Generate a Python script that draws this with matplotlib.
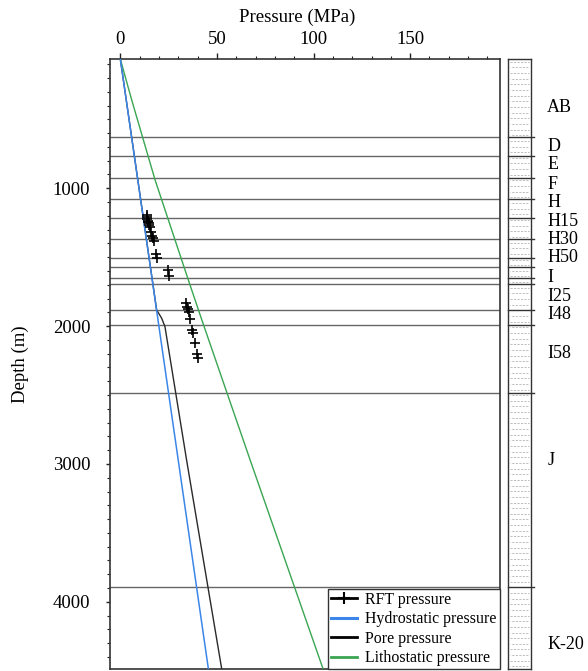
import numpy as np
import matplotlib
matplotlib.use("Agg")
import matplotlib.pyplot as plt
from matplotlib.ticker import MultipleLocator, FixedLocator
from matplotlib.lines import Line2D
import matplotlib.transforms as mtransforms

plt.rcParams['font.family'] = ['Liberation Serif', 'DejaVu Serif']

# ---------------- data ----------------
# RFT pressure measurements (MPa, depth m)
rft_pressure = [13.6, 13.8, 14.0, 14.2, 14.4, 14.6, 14.9, 15.5, 16.1, 16.6, 17.1, 17.6,
                18.5, 18.9, 24.6, 25.1,
                34.0, 34.4, 34.9, 35.6, 36.1, 37.0, 37.5, 38.7, 39.9, 40.2]
rft_depth = [1195, 1210, 1222, 1235, 1245, 1255, 1265, 1282, 1315, 1344, 1363, 1382,
             1475, 1503, 1595, 1638,
             1835, 1859, 1876, 1900, 1951, 2028, 2052, 2125, 2202, 2234]

# Hydrostatic pressure
hydro_pressure = [0.0, 45.6]
hydro_depth = [62, 4490]

# Pore pressure
pore_pressure = [0.0, 18.8, 21.4, 23.1, 34.3, 52.5]
pore_depth = [62, 1883, 1943, 2004, 2972, 4490]

# Lithostatic pressure
litho_pressure = [0.0, 5.9, 18.0, 35.2, 42.2, 67.2, 105.0]
litho_depth = [62, 360, 940, 1665, 1956, 2972, 4490]

# Formation tops (m) and labels
boundary_depths = [626, 766, 929, 1080, 1218, 1370, 1509, 1573, 1653, 1694, 1883, 1992, 2485, 3893]
formation_labels = ['AB', 'D', 'E', 'F', 'H', 'H15', 'H30', 'H50', 'I', 'I25', 'I48', 'I58', 'J', 'K-20']
formation_label_depths = [415, 698, 831, 969, 1102, 1242, 1375, 1504, 1649, 1782, 1919, 2202, 2972, 4307]

x_ticks = [0, 50, 100, 150]
y_ticks = [1000, 2000, 3000, 4000]

# ---------------- figure ----------------
W, H = 588, 671
fig = plt.figure(figsize=(W / 100, H / 100), dpi=100)

ax_l, ax_r, ax_t, ax_b = 109.7, 500.0, 59.0, 669.3
ax = fig.add_axes([ax_l / W, 1 - ax_b / H, (ax_r - ax_l) / W, (ax_b - ax_t) / H])
ax.set_xlim(-5.5, 196.5)
ax.set_ylim(4490, 62)

# formation boundary lines
for d in boundary_depths:
    ax.axhline(d, color='#666666', lw=1.0, zorder=1)

ax.plot(pore_pressure, pore_depth, color='#2a2a2a', lw=1.0, zorder=3)
ax.plot(hydro_pressure, hydro_depth, color='#3b86e8', lw=1.1, zorder=3.5)
ax.plot(litho_pressure, litho_depth, color='#3aa552', lw=1.0, zorder=3)
ax.plot(rft_pressure, rft_depth, ls='none', marker='+', ms=7, mew=1.2, color='black', zorder=4)

ax.xaxis.tick_top()
ax.xaxis.set_label_position('top')
ax.xaxis.set_major_locator(FixedLocator(x_ticks))
ax.xaxis.set_minor_locator(MultipleLocator(10))
ax.yaxis.set_major_locator(FixedLocator(y_ticks))
ax.yaxis.set_minor_locator(MultipleLocator(100))
ax.tick_params(axis='x', which='major', direction='out', length=4.3, width=1.0, pad=3.5,
               labelsize=13.5, colors='#222', top=True, bottom=False)
ax.tick_params(axis='x', which='minor', direction='out', length=2.4, width=0.8,
               colors='#222', top=True, bottom=False)
ax.tick_params(axis='y', which='major', direction='out', length=3.0, width=1.0, pad=11,
               labelsize=13.5, colors='#222')
ax.tick_params(axis='y', which='minor', direction='out', length=2.0, width=0.8, colors='#222')
for lab in ax.get_xticklabels() + ax.get_yticklabels():
    lab.set_color('black')

for s in ax.spines.values():
    s.set_color('#333333')
    s.set_linewidth(1.2)

ax.set_xlabel('Pressure (MPa)', fontsize=13.5)
ax.set_ylabel('Depth (m)', fontsize=13.5)
ax.xaxis.set_label_coords((297.5 - ax_l) / (ax_r - ax_l), 1 + (ax_t - 21.7) / (ax_b - ax_t))
ax.yaxis.set_label_coords((29.5 - ax_l) / (ax_r - ax_l), 0.5)

handles = [
    Line2D([], [], color='black', marker='+', ms=9, mew=1.5, lw=2.0),
    Line2D([], [], color='#3b86e8', lw=2.2),
    Line2D([], [], color='black', lw=2.0),
    Line2D([], [], color='#3aa552', lw=2.0),
]
labels = ['RFT pressure', 'Hydrostatic pressure', 'Pore pressure', 'Lithostatic pressure']
leg = ax.legend(handles, labels, loc='lower right', borderaxespad=0, fontsize=11.4,
                frameon=True, fancybox=False, framealpha=1, edgecolor='#333333',
                borderpad=0.2, labelspacing=0.22, handlelength=1.6, handletextpad=0.55)
leg.get_frame().set_linewidth(1.0)
leg.set_zorder(5)

# ---------------- lithology column ----------------
st_l, st_r = 508.3, 530.7
ax2 = fig.add_axes([st_l / W, 1 - ax_b / H, (st_r - st_l) / W, (ax_b - ax_t) / H])
ax2.set_xlim(0, 1)
ax2.set_ylim(4490, 62)
ax2.set_xticks([])
ax2.set_yticks([])
for s in ax2.spines.values():
    s.set_color('#333333')
    s.set_linewidth(1.0)

# shale-like dash pattern
row_step = 41.0
rows = np.arange(62 + 20, 4490, row_step)
for i, yv in enumerate(rows):
    off = 0.0 if i % 2 == 0 else 1.8
    ax2.plot([0.06, 0.94], [yv, yv], color='#bdbdbd', lw=0.7,
             linestyle=(off, (2.2, 1.4)), dash_capstyle='butt', zorder=1)

for d in boundary_depths:
    ax2.plot([0, 1.16], [d, d], color='#333333', lw=1.0, clip_on=False, zorder=3)

trans = mtransforms.blended_transform_factory(ax2.transAxes, ax2.transData)
label_x = (547.3 - st_l) / (st_r - st_l)
for lab, d in zip(formation_labels, formation_label_depths):
    ax2.text(label_x, d, lab, transform=trans, ha='left', va='center', fontsize=13)

fig.savefig('out.png', dpi=100)
